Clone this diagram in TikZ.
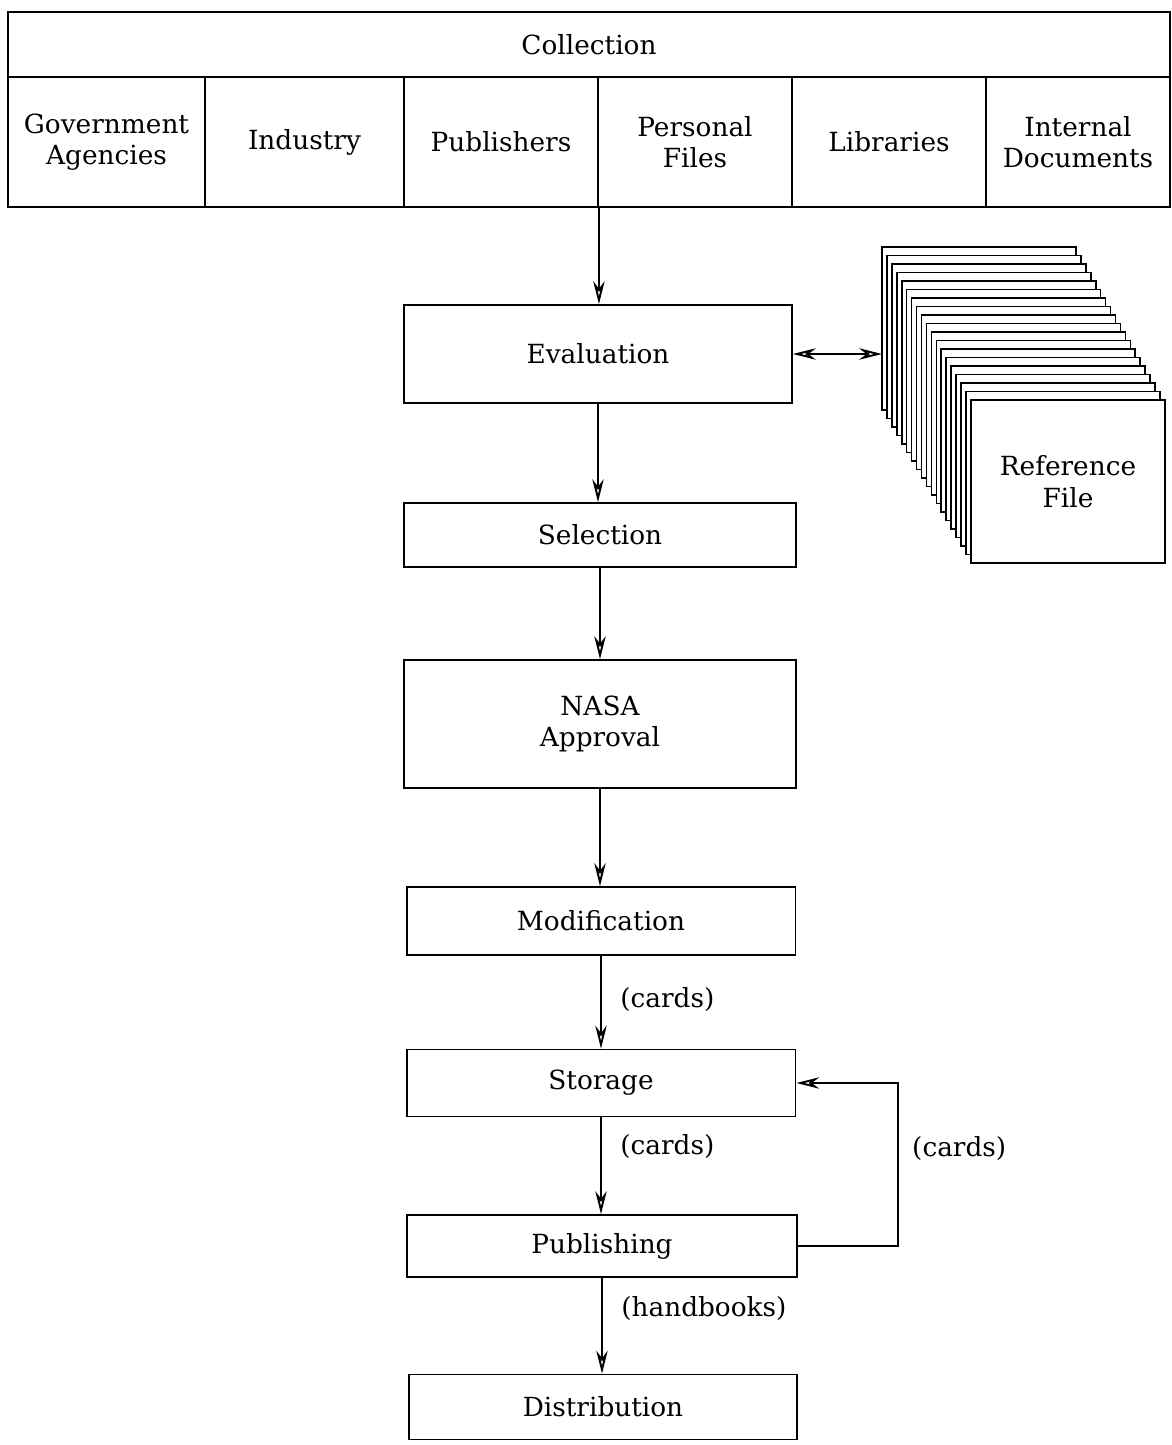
\documentclass[tikz,border=0pt]{standalone}
\usepackage{fontspec}
\setmainfont{DejaVu Serif}
\usetikzlibrary{shapes,arrows.meta}

\tikzset{
  box/.style={draw, line width=1.1pt, align=center, inner sep=3pt},
  flow/.style={draw, line width=1.1pt, -{Stealth[open, length=13pt, width=6.5pt]}},
  twoway/.style={draw, line width=1.1pt, {Stealth[open, length=13pt, width=6.5pt]}-{Stealth[open, length=13pt, width=6.5pt]}},
  card/.style={draw, line width=0.9pt, fill=white},
  via/.style={right, xshift=0.25cm}
}

\begin{document}
\begin{tikzpicture}[x=0.02cm, y=-0.02cm, font=\fontsize{15}{18}\selectfont]
\useasboundingbox (0,0) rectangle (1172,1445);

% sources
\node[name=Collection,box,minimum width=23.24cm,minimum height=1.3cm] at (589,44.5) {Collection};
\node[name=Government-Agencies,box,minimum width=3.94cm,minimum height=2.6cm] at (106.5,142) {Government\\Agencies};
\node[name=Industry,box,minimum width=3.98cm,minimum height=2.6cm] at (304.5,142) {Industry};
\node[name=Publishers,box,minimum width=3.88cm,minimum height=2.6cm] at (501,142) {Publishers};
\node[name=Personal-Files,box,minimum width=3.88cm,minimum height=2.6cm] at (695,142) {Personal\\Files};
\node[name=Libraries,box,minimum width=3.88cm,minimum height=2.6cm] at (889,142) {Libraries};
\node[name=Internal-Documents,box,minimum width=3.68cm,minimum height=2.6cm] at (1078,142) {Internal\\Documents};

% stages
\node[name=Evaluation,box,minimum width=7.76cm,minimum height=1.96cm] at (598,354) {Evaluation};
\node[name=Selection,box,minimum width=7.84cm,minimum height=1.28cm] at (600,535) {Selection};
\node[name=NASA-Approval,box,minimum width=7.84cm,minimum height=2.56cm] at (600,724) {NASA\\Approval};
\node[name=Modification,box,minimum width=7.78cm,minimum height=1.36cm] at (601,921) {Modification};
\node[name=Storage,box,minimum width=7.78cm,minimum height=1.34cm] at (601,1083) {Storage};
\node[name=Publishing,box,minimum width=7.8cm,minimum height=1.24cm] at (602,1246) {Publishing};
\node[name=Distribution,box,minimum width=7.76cm,minimum height=1.3cm] at (603,1407) {Distribution};

% reference file stack
\foreach \i in {0,...,17}
  \draw[card] ({882+\i*4.94},{247+\i*8.5}) rectangle ++(194,163);
\node[name=Reference-File,box,card,minimum width=3.88cm,minimum height=3.26cm] at (1068,481.5) {Reference\\File};
\coordinate (Card-Stack) at (882,354);

\draw[flow] (Publishers.south east) -- (Publishers.south east |- Evaluation.north);
\draw[twoway] (Evaluation.east) -- (Card-Stack);
\draw[flow] (Evaluation.south) -- (Evaluation.south |- Selection.north);
\draw[flow] (Selection.south) -- (Selection.south |- NASA-Approval.north);
\draw[flow] (NASA-Approval.south) -- (NASA-Approval.south |- Modification.north);
\draw[flow] (Modification.south) -- node[via, pos=0.47] {(cards)} (Modification.south |- Storage.north);
\draw[flow] (Storage.south) -- node[via, pos=0.3] {(cards)} (Storage.south |- Publishing.north);
\draw[flow] (Publishing.south) -- node[via, pos=0.32] {(handbooks)} (Publishing.south |- Distribution.north);
\draw[flow] (Publishing.east) -- ++(2cm,0) |- node[right, pos=0.3, xshift=0.15cm] {(cards)} (Storage.east);
\end{tikzpicture}
\end{document}
